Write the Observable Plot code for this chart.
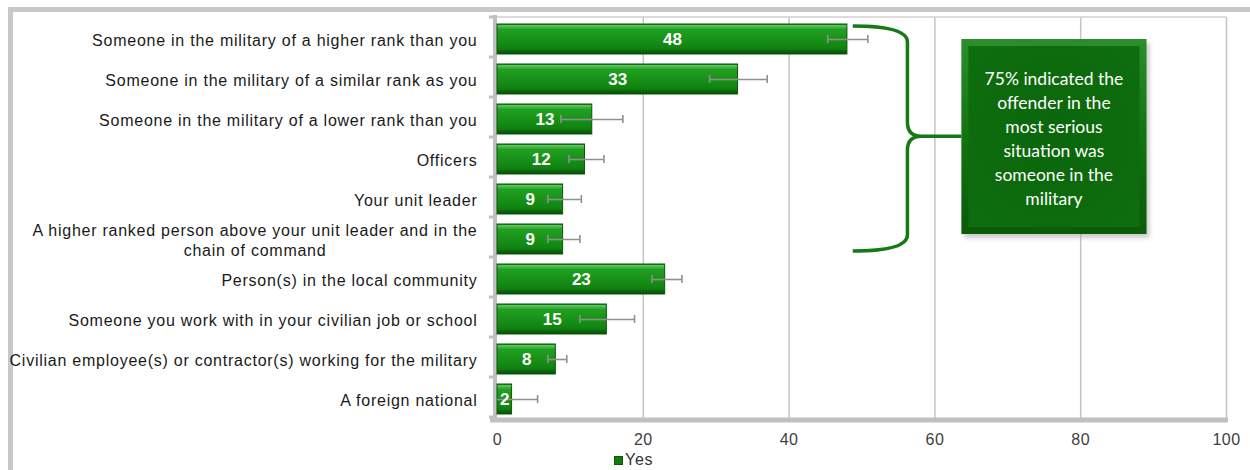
<!DOCTYPE html>
<html><head><meta charset="utf-8">
<script src="https://cdn.jsdelivr.net/npm/d3@7"></script>
<script src="https://cdn.jsdelivr.net/npm/@observablehq/plot@0.6"></script>
<style>
body{margin:0;background:#fff;}
#wrap{position:relative;width:1250px;height:470px;overflow:hidden;}
#frame{position:absolute;left:8px;top:7px;width:1300px;height:500px;border-left:5px solid #c8c8c8;border-top:5px solid #c8c8c8;}
#chart{position:absolute;left:0;top:0;}
#legend{position:absolute;left:614px;top:451px;font:16px 'Liberation Sans',Arial,sans-serif;letter-spacing:0.7px;color:#333;display:flex;align-items:center;gap:2px;line-height:18px;}
#legend .sw{width:7px;height:7px;background:#137a13;border:1px solid #0a560a;}
g[aria-label="y-axis tick label"] text{letter-spacing:0.75px;}
g[aria-label="x-axis tick label"] text{letter-spacing:0.5px;}
</style></head><body>
<div id="wrap"><div id="frame"></div><div id="chart"></div><div id="legend"></div></div>
<script>
const categories = [
  "Someone in the military of a higher rank than you",
  "Someone in the military of a similar rank as you",
  "Someone in the military of a lower rank than you",
  "Officers",
  "Your unit leader",
  "A higher ranked person above your unit leader and in the\nchain of command",
  "Person(s) in the local community",
  "Someone you work with in your civilian job or school",
  "Civilian employee(s) or contractor(s) working for the military",
  "A foreign national"
];
const values = [48, 33, 13, 12, 9, 9, 23, 15, 8, 2];
const errLow = [45.3, 29.1, 8.7, 9.8, 6.9, 6.9, 21.2, 11.3, 6.9, 0];
const errHigh = [50.8, 37.0, 17.2, 14.6, 11.5, 11.3, 25.3, 18.8, 9.5, 5.5];
const xTicks = [0, 20, 40, 60, 80, 100];
const seriesName = "Yes";
const calloutLines = ["75% indicated the", "offender in the", "most serious", "situation was", "someone in the", "military"];
// annotation anchors in data units
const braceX = [48.8, 56.3, 63.7];
const boxX = [63.7, 89.1];
const braceRows = [0, 5];

const data = categories.map((c, i) => ({cat: c, value: values[i], lo: errLow[i], hi: errHigh[i]}));

function defs() {
  const g = d3.create("svg:defs");
  const lg = g.append("linearGradient").attr("id", "barGrad").attr("x1", 0).attr("y1", 0).attr("x2", 0).attr("y2", 1);
  [[0, "#0a5a0a"], [0.05, "#5cc45c"], [0.18, "#22a022"], [0.55, "#169016"], [0.82, "#118011"], [0.92, "#0a620a"], [1, "#084c08"]]
    .forEach(([o, c]) => lg.append("stop").attr("offset", o).attr("stop-color", c));
  const bg = g.append("linearGradient").attr("id", "boxGrad").attr("x1", 0).attr("y1", 0).attr("x2", 0).attr("y2", 1);
  [[0, "#2c8e2c"], [0.5, "#12740f"], [1, "#0a5a0a"]].forEach(([o, c]) => bg.append("stop").attr("offset", o).attr("stop-color", c));
  const rg = g.append("radialGradient").attr("id", "boxInner").attr("cx", 0.5).attr("cy", 0.5).attr("r", 0.7);
  [[0, "#0b660b"], [1, "#0e6e0e"]].forEach(([o, c]) => rg.append("stop").attr("offset", o).attr("stop-color", c));
  return g.node();
}

function decorations(index, scales, values, dims) {
  const {x, y} = scales;
  const left = dims.marginLeft, right = dims.width - dims.marginRight;
  const top = dims.marginTop, bottom = dims.height - dims.marginBottom;
  const step = y(categories[1]) - y(categories[0]);
  const g = d3.create("svg:g");
  g.append("line").attr("x1", left).attr("x2", right).attr("y1", top).attr("y2", top)
    .attr("stroke", "#d0d0d0").attr("stroke-width", 1.5);
  for (let i = 0; i <= categories.length; i++) {
    const yy = top + i * step;
    g.append("line").attr("x1", left - 8).attr("x2", left - 3).attr("y1", yy).attr("y2", yy)
      .attr("stroke", "#c0c0c0").attr("stroke-width", 3);
  }
  g.append("line").attr("x1", left - 2).attr("x2", left - 2).attr("y1", top - 2).attr("y2", bottom + 2)
    .attr("stroke", "#c0c0c0").attr("stroke-width", 4);
  g.append("line").attr("x1", left - 7).attr("x2", right + 2).attr("y1", bottom).attr("y2", bottom)
    .attr("stroke", "#c0c0c0").attr("stroke-width", 5);
  return g.node();
}

function annotation(index, scales, values, dims) {
  const {x, y} = scales;
  const step = y(categories[1]) - y(categories[0]);
  const bw = step * 0.75;
  const g = d3.create("svg:g");
  const xa = x(braceX[0]), xb = x(braceX[1]), xc = x(braceX[2]);
  const yt = y(categories[braceRows[0]]) + 2;
  const yb = y(categories[braceRows[1]]) + bw - 3;
  const ym = yt + (yb - yt) * 0.49;
  const path = `M${xa},${yt} Q${xb},${yt} ${xb},${yt + 16} L${xb},${ym - 14} Q${xb},${ym} ${xb + 14},${ym} L${xc},${ym} M${xb + 14},${ym} Q${xb},${ym} ${xb},${ym + 14} L${xb},${yb - 16} Q${xb},${yb} ${xa},${yb}`;
  g.append("path").attr("d", path).attr("fill", "none").attr("stroke", "#157a15").attr("stroke-width", 3.5);
  const bx0 = x(boxX[0]), bx1 = x(boxX[1]);
  const by0 = y(categories[braceRows[0]]) + bw / 2;
  const by1 = y(categories[braceRows[1]]) + bw / 2 - 5;
  g.append("rect").attr("x", bx0 + 3).attr("y", by0 + 4).attr("width", bx1 - bx0).attr("height", by1 - by0)
    .attr("fill", "#9a9a9a").attr("opacity", 0.5).attr("filter", "blur(2px)");
  g.append("rect").attr("x", bx0).attr("y", by0).attr("width", bx1 - bx0).attr("height", by1 - by0).attr("fill", "url(#boxGrad)");
  g.append("rect").attr("x", bx0 + 7).attr("y", by0 + 7).attr("width", bx1 - bx0 - 14).attr("height", by1 - by0 - 14).attr("fill", "url(#boxInner)");
  const cx = (bx0 + bx1) / 2, cy = (by0 + by1) / 2 + 2;
  const lh = 24;
  calloutLines.forEach((t, i) => {
    g.append("text").attr("x", cx).attr("y", cy + (i - (calloutLines.length - 1) / 2) * lh)
      .attr("text-anchor", "middle").attr("dominant-baseline", "central")
      .attr("fill", "#ffffff").attr("font-family", "Lato, 'Open Sans', sans-serif").attr("font-size", 17.5)
      .text(t);
  });
  return g.node();
}

const chart = Plot.plot({
  width: 1250,
  height: 450,
  marginLeft: 497,
  marginRight: 24,
  marginTop: 17,
  marginBottom: 30,
  style: {fontFamily: "'Liberation Sans', Arial, sans-serif", background: "transparent"},
  x: {domain: [0, 100], ticks: xTicks, label: null},
  y: {domain: categories, paddingInner: 0.25, paddingOuter: 0.125, label: null},
  marks: [
    defs,
    Plot.gridX(xTicks.filter(d => d > 0), {stroke: "#c4c4c4", strokeOpacity: 1, strokeWidth: 1.5}),
    decorations,
    Plot.axisX({ticks: xTicks, tickSize: 0, tickPadding: 13, fontSize: 16, fill: "#404040", tickFormat: d => d}),
    Plot.axisY({tickSize: 0, tickPadding: 20, fontSize: 16, fill: "#1a1a1a", textAnchor: "end", lineHeight: 1.25}),
    Plot.barX(data, {x: "value", y: "cat", fill: "url(#barGrad)", stroke: "#0a560a", strokeWidth: 1}),
    Plot.ruleY(data, {y: "cat", x1: "lo", x2: "hi", stroke: "#8f8f8f", strokeWidth: 1.6}),
    Plot.tickX(data.filter(d => d.lo > 0), {x: "lo", y: "cat", stroke: "#8f8f8f", strokeWidth: 1.6, insetTop: 11, insetBottom: 11}),
    Plot.tickX(data, {x: "hi", y: "cat", stroke: "#8f8f8f", strokeWidth: 1.6, insetTop: 11, insetBottom: 11}),
    Plot.text(data, {x: d => d.value / 2, y: "cat", text: d => String(d.value), fill: "#ffffff", fontSize: 17, fontWeight: "bold"}),
    annotation
  ]
});
document.getElementById("chart").appendChild(chart);

// center the second line of multi-line category labels under the first
chart.querySelectorAll('g[aria-label="y-axis tick label"] text').forEach(t => {
  const spans = t.querySelectorAll("tspan");
  if (spans.length > 1) {
    const w = spans[0].getComputedTextLength();
    t.setAttribute("text-anchor", "middle");
    t.setAttribute("transform", (t.getAttribute("transform") || "") + ` translate(${-w / 2},0)`);
  }
});

const legend = document.getElementById("legend");
legend.innerHTML = `<span class="sw"></span><span>${seriesName}</span>`;
</script>
</body></html>
